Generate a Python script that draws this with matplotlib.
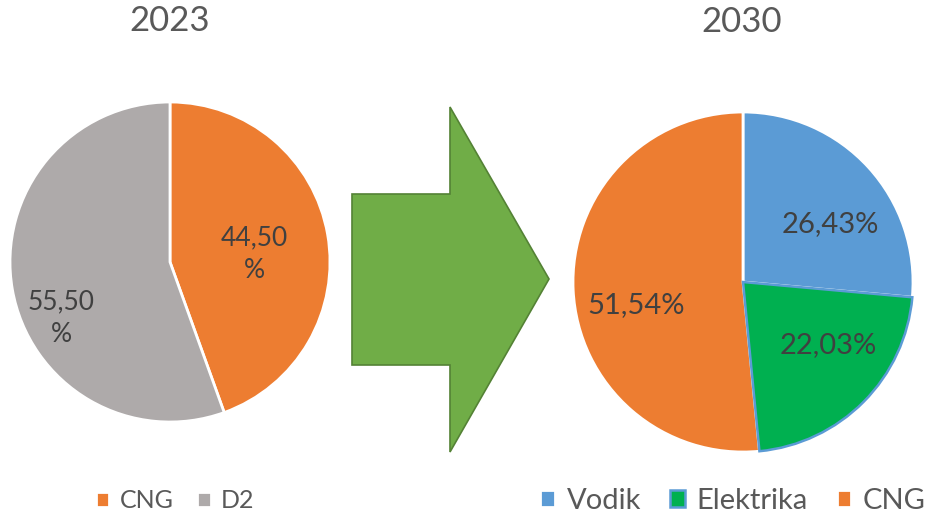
import matplotlib
matplotlib.use("Agg")
import matplotlib.pyplot as plt
from matplotlib.patches import Polygon

plt.rcParams['font.family'] = ['Lato', 'DejaVu Sans']

# Data
cat_2023 = ["CNG", "D2"]
val_2023 = [44.50, 55.50]
col_2023 = ["#ED7D31", "#AEAAAA"]

cat_2030 = ["Vodik", "Elektrika", "CNG"]
val_2030 = [26.43, 22.03, 51.54]
col_2030 = ["#5B9BD5", "#00B050", "#ED7D31"]

W, H = 928, 516
fig = plt.figure(figsize=(W / 100, H / 100), dpi=100)
ax = fig.add_axes([0, 0, 1, 1])

def fmt(v):
    return f"{v:.2f}".replace(".", ",")

# Left pie
c1 = (170, H - 262)
r1 = 160
w1, _ = ax.pie(val_2023, colors=col_2023, startangle=90, counterclock=False,
               center=c1, radius=r1, frame=True,
               wedgeprops=dict(edgecolor="white", linewidth=2))

# Right pie
c2 = (743, H - 282)
r2 = 170
w2, _ = ax.pie(val_2030, colors=col_2030, startangle=90, counterclock=False,
               center=c2, radius=r2, frame=True, explode=[0, 0.018, 0],
               wedgeprops=dict(edgecolor="white", linewidth=2))
w2[1].set_edgecolor("#5B9BD5")
w2[1].set_linewidth(1.8)
w2[1].set_zorder(3)

# Labels
lab_kw = dict(ha="center", va="center", color="#404040", linespacing=1.4)
ax.text(c1[0] + 84, c1[1] + 8, fmt(val_2023[0]) + "\n%", fontsize=19, **lab_kw)
ax.text(c1[0] - 109, c1[1] - 56, fmt(val_2023[1]) + "\n%", fontsize=19, **lab_kw)
ax.text(c2[0] + 87, c2[1] + 58, fmt(val_2030[0]) + "%", fontsize=21, **lab_kw)
ax.text(c2[0] + 85, c2[1] - 63, fmt(val_2030[1]) + "%", fontsize=21, **lab_kw)
ax.text(c2[0] - 107, c2[1] - 23, fmt(val_2030[2]) + "%", fontsize=21, **lab_kw)

# Titles
ax.text(170, H - 21, "2023", ha="center", va="center", fontsize=25, color="#595959")
ax.text(742, H - 22, "2030", ha="center", va="center", fontsize=25, color="#595959")

# Arrow
arrow_pts = [(352, 194), (450, 194), (450, 107), (549, 279), (450, 452), (450, 365), (352, 365)]
ax.add_patch(Polygon([(x, H - y) for x, y in arrow_pts], closed=True,
                     facecolor="#70AD47", edgecolor="#548235", linewidth=1.2))

# Legends
leg_kw = dict(loc="center", frameon=False, labelcolor="#595959", bbox_transform=ax.transData)
l1 = ax.legend(w1, cat_2023, ncol=2, bbox_to_anchor=(175, H - 501), fontsize=18,
               handlelength=0.55, handleheight=0.55, handletextpad=0.4,
               columnspacing=0.95, **leg_kw)
ax.add_artist(l1)
l2 = ax.legend(w2, cat_2030, ncol=3, bbox_to_anchor=(733, H - 501), fontsize=21,
               handlelength=0.5, handleheight=0.5, handletextpad=0.4,
               columnspacing=1.0, **leg_kw)

ax.set_xlim(0, W)
ax.set_ylim(0, H)
ax.set_aspect("auto")
ax.axis("off")

fig.savefig("out.png", dpi=100)
